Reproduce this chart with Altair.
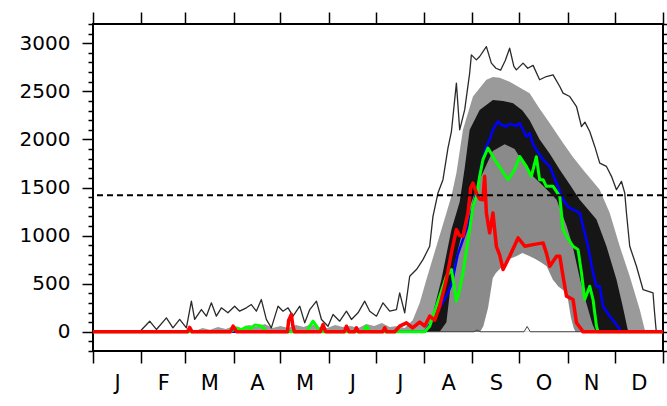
import altair as alt
import pandas as pd

# ---------------- data ----------------
MONTHS = ["J", "F", "M", "A", "M", "J", "J", "A", "S", "O", "N", "D"]
MONTH_EDGES = [0, 31, 59, 90, 120, 151, 181, 212, 243, 273, 304, 334, 365]
MONTH_MIDS = [15.5, 45, 74.5, 105, 135.5, 166, 196.5, 227.5, 258, 288.5, 319, 349.5]
Y_TICKS = list(range(-200, 3201, 100))
THRESHOLD = 1420

# thin black upper envelope
MAX_DAY = [0, 29.9, 36.3, 40.6, 47.0, 51.2, 55.5, 59.8, 63.0, 65.1, 69.4, 72.6, 75.8, 79.0,
           82.2, 86.4, 90.7, 93.9, 98.2, 101.4, 104.6, 107.8, 111.0, 114.2, 118.5, 121.7,
           124.9, 128.1, 132.4, 135.6, 138.8, 143.1, 146.3, 150.5, 153.7, 158.0, 162.3,
           165.5, 169.7, 174.0, 177.2, 181.5, 185.7, 190.0, 194.3, 196.4, 199.6, 202.8,
           207.1, 211.3, 215.6, 217.7, 220.9, 224.1, 227.3, 229.5, 232.7, 234.8, 238.0,
           241.2, 242.3, 245.5, 247.6, 251.9, 255.1, 258.0, 261.0, 264.0, 266.8, 269.5,
           271.1, 275.4, 278.4, 281.8, 286.0, 290.3, 294.6, 298.9, 301.0, 305.3, 309.6,
           312.8, 315.0, 318.1, 321.3, 324.5, 328.8, 332.0, 335.2, 338.4, 340.5, 341.6,
           343.7, 348.0, 352.2, 358.6, 359.6, 360.7, 365]
MAX_VAL = [0, 0, 110, 24, 145, 41, 128, 41, 318, 128, 231, 162, 301, 162,
           249, 197, 266, 214, 249, 283, 214, 335, 128, 41, 266, 214,
           249, 162, 266, 93, 231, 318, 128, 58, 180, 110, 214,
           128, 197, 318, 214, 162, 301, 214, 231, 405, 197, 577,
           647, 750, 889, 1200, 1442, 1581, 1910, 2080, 2585, 2100, 2307,
           2690, 2879, 2827, 2862, 2965, 2793, 2740, 2720, 2820, 2948, 2760,
           2723, 2793, 2740, 2770, 2620, 2654, 2671, 2550, 2481, 2446, 2342,
           2134, 2180, 2083, 1927, 1754, 1719, 1616, 1477, 1564, 1443, 1235,
           889, 681, 439, 405, 197, 0, 0]

# thin line near zero
MIN_DAY = [0, 244, 246, 248, 276, 278, 280, 365]
MIN_VAL = [0, 0, 20, 0, 0, 55, 0, 0]

# outer (light gray) band, upper edge
OUT_DAY = [0, 58, 62, 66, 70, 75, 80, 85, 90, 95, 100, 105, 110, 115, 120, 125, 130, 135,
           140, 145, 150, 155, 160, 165, 170, 175, 180, 185, 190, 195, 199.6, 204.7,
           209.2, 213.5, 219.9, 226.3, 229.5, 232.7, 236.9, 243.3, 251.9, 256.1, 260.4,
           266.8, 273.2, 279.6, 286.0, 292.5, 301.0, 307.2, 313.8, 324.5, 330.9, 337.3,
           343.7, 350.1, 353.3, 355, 365]
OUT_HI = [0, 0, 20, 10, 40, 20, 50, 30, 60, 40, 70, 50, 80, 40, 60, 40, 70, 50,
          80, 50, 40, 70, 50, 60, 40, 80, 60, 90, 50, 60, 40, 120,
          300, 543, 889, 1235, 1408, 1650, 2100, 2446, 2620, 2650, 2640,
          2600, 2540, 2480, 2320, 2169, 1962, 1820, 1685, 1477, 1235, 889,
          577, 231, 24, 0, 0]

# dark (black) band, upper edge
BLK_DAY = [213, 215.6, 223.1, 229.5, 234.8, 238.0, 241.2, 247.6, 256.1, 262.6, 269.0,
           275.0, 279.6, 286.0, 292.5, 298.9, 305.3, 311.7, 318.1, 322.4, 328.8, 335.2,
           339.2, 342.4, 344]
BLK_HI = [0, 58, 543, 1062, 1350, 1700, 2100, 2307, 2411, 2400, 2377,
          2300, 2200, 2000, 1850, 1685, 1530, 1373, 1250, 1166, 889, 543,
          266, 24, 0]

# inner (gray) band, upper edge
INN_DAY = [222, 226.3, 229.5, 232.9, 236.9, 241.2, 247.6, 256.0, 263.6, 270.0, 279.6,
           289.3, 296.9, 303.3, 307.2, 311.7, 315.9, 319.8, 322]
INN_HI = [0, 100, 543, 800, 1062, 1300, 1581, 1880, 1950, 1900, 1650,
          1500, 1373, 1100, 889, 560, 300, 80, 0]

# empty region under the bands in Sep-Oct (lower edge of all bands)
HOLE_DAY = [248, 250, 253, 256, 258, 261, 264, 267, 271, 275, 279, 283, 287, 290.5,
            294.4, 298, 302, 304, 306, 307.8, 309]
HOLE_LO = [0, 60, 250, 560, 612, 660, 720, 760, 785, 820, 790, 760, 720, 681,
           543, 470, 420, 350, 150, 40, 0]

BLUE_DAY = [0, 212.4, 217.7, 222.0, 226.3, 229.7, 233.5, 236.9, 239.9, 243.3, 246.3,
            248.9, 251.9, 254.0, 256.1, 257.9, 259.3, 261.7, 264.7, 266.8, 269.0, 271.1,
            273.2, 275.4, 277.5, 279.6, 281.8, 283.9, 288.2, 292.5, 296.8, 301.0, 304.2,
            307.4, 311.7, 313.8, 317.0, 320.2, 322.4, 324.5, 326.6, 330.9, 334.0, 337.3,
            338.6, 365]
BLUE_VAL = [0, 0, 128, 250, 370, 500, 800, 958, 1100, 1304, 1500,
            1750, 1927, 2000, 2100, 2150, 2186, 2150, 2134, 2160, 2152, 2140,
            2169, 2100, 2030, 2066, 1950, 1892, 1789, 1719, 1547, 1373, 1300,
            1270, 1235, 1096, 889, 612, 473, 473, 266, 162, 100, 24,
            0, 0]

GREEN_DAY = [0, 88, 91.8, 95, 98.2, 101, 103.5, 108.0, 111.0, 137, 138.8, 140.9, 143.9,
             146, 173, 175.1, 177.2, 212.4, 215.6, 219.9, 226.3, 229.5, 231.0, 232.7,
             234.8, 236.9, 241.2, 243.3, 245.5, 247.6, 249.7, 252.9, 255.1, 257.2, 261.5,
             265.8, 270.0, 273.2, 277.5, 280.7, 283.9, 286.0, 288.2, 290.3, 294.6, 298.9,
             301.0, 303.2, 307.4, 310.6, 312.8, 314.9, 318.1, 320.2, 322.4, 323.4, 365]
GREEN_VAL = [0, 0, 40, 20, 50, 30, 70, 60, 0, 0, 60, 110, 40,
             0, 0, 58, 0, 0, 58, 266, 577, 647, 500, 320,
             439, 612, 1062, 1304, 1408, 1616, 1789, 1910, 1850, 1789, 1685,
             1581, 1685, 1823, 1719, 1616, 1820, 1581, 1581, 1512, 1512, 1408,
             1062, 993, 889, 854, 612, 335, 473, 335, 58, 0, 0]

RED_DAY = [0, 60.5, 61.9, 63.5, 88, 89.7, 92, 124.5, 125.3, 127.0, 128, 129, 145.5,
           147.3, 149, 161, 162.3, 164, 167.5, 168.7, 170, 185.5, 186.8, 188, 193.2,
           196.4, 200.7, 204.7, 209.2, 212.4, 215.6, 218.8, 222.0, 226.3, 229.5, 232.7,
           234.8, 236.9, 240.1, 241.9, 243.3, 245.5, 247.6, 249.7, 250.8, 251.9, 254.0,
           256.1, 258.3, 260.4, 262.6, 266.8, 272.2, 276.5, 281.8, 288.2, 290.3, 292.5,
           296.8, 298.9, 301.0, 303.2, 307.4, 309.6, 312.8, 313.6, 365]
RED_VAL = [0, 0, 45, 0, 0, 58, 0, 0, 120, 180, 60, 0, 0,
           75, 0, 0, 58, 0, 0, 41, 0, 0, 41, 0, 0,
           58, 93, 40, 100, 60, 162, 120, 266, 543, 820, 1062,
           1000, 993, 1235, 1500, 1547, 1443, 1380, 1373, 1616, 1235, 1028,
           1235, 889, 800, 647, 785, 976, 889, 906, 924, 820, 681,
           785, 785, 577, 370, 335, 93, 24, 0, 0]

# ---------------- chart ----------------
FONT = "DejaVu Sans"
xs = alt.Scale(domain=[0, 365], nice=False, zero=False)
ys = alt.Scale(domain=[-200, 3200], nice=False, zero=False)

mid_js = "[" + ",".join(str(m) for m in MONTH_MIDS) + "]"
let_js = "[" + ",".join("'" + m + "'" for m in MONTHS) + "]"

ax_bottom = alt.Axis(
    orient="bottom", values=MONTH_EDGES + MONTH_MIDS, title=None, grid=False, domain=False,
    tickSize=12, tickWidth=1.5, tickColor="black",
    tickOpacity={"condition": {"test": f"indexof({mid_js}, datum.value) >= 0", "value": 0}, "value": 1},
    labelExpr=f"indexof({mid_js}, datum.value) >= 0 ? {let_js}[indexof({mid_js}, datum.value)] : ''",
    labelFont=FONT, labelFontSize=21, labelColor="black",
    labelPadding=9, labelOverlap=False, labelFlush=False, labelBound=False, labelBaseline="top")
ax_left = alt.Axis(
    orient="left", values=Y_TICKS, title=None, grid=False, domain=False,
    tickSize={"condition": {"test": "datum.value % 500 === 0", "value": 11}, "value": 5},
    tickWidth=1.5, tickColor="black",
    labelExpr="(datum.value % 500 === 0 && datum.value >= 0 && datum.value <= 3000) ? '' + datum.value : ''",
    labelFont=FONT, labelFontSize=20, labelColor="black",
    labelPadding=12, labelOverlap=False, labelFlush=False, labelBound=False)
ax_top = alt.Axis(orient="top", values=MONTH_EDGES, title=None, grid=False, domain=False,
                  tickSize=12, tickWidth=1.5, tickColor="black", labels=False)
ax_right = alt.Axis(
    orient="right", values=Y_TICKS, title=None, grid=False, domain=False,
    tickSize={"condition": {"test": "datum.value % 500 === 0", "value": 8}, "value": 4},
    tickWidth=1.5, tickColor="black", labels=False)

out_df = pd.DataFrame({"day": OUT_DAY, "hi": OUT_HI})
blk_df = pd.DataFrame({"day": BLK_DAY, "hi": BLK_HI})
inn_df = pd.DataFrame({"day": INN_DAY, "hi": INN_HI})
hole_df = pd.DataFrame({"day": HOLE_DAY, "lo": HOLE_LO})

outer = alt.Chart(out_df).mark_area(color="#9a9a9a", clip=True).encode(
    x=alt.X("day:Q", scale=xs, axis=ax_bottom),
    y=alt.Y("hi:Q", scale=ys, axis=ax_left),
    y2=alt.datum(0))
black = alt.Chart(blk_df).mark_area(color="#161616", clip=True).encode(
    x=alt.X("day:Q", scale=xs, axis=ax_top),
    y=alt.Y("hi:Q", scale=ys, axis=ax_right),
    y2=alt.datum(0))
inner = alt.Chart(inn_df).mark_area(color="#8a8a8a", clip=True).encode(
    x=alt.X("day:Q", scale=xs, axis=None),
    y=alt.Y("hi:Q", scale=ys, axis=None),
    y2=alt.datum(0))
hole = alt.Chart(hole_df).mark_area(color="white", clip=True).encode(
    x=alt.X("day:Q", scale=xs, axis=None),
    y=alt.Y("lo:Q", scale=ys, axis=None),
    y2=alt.datum(0))


def line(days, vals, color, width):
    df = pd.DataFrame({"day": days, "v": vals})
    return alt.Chart(df).mark_line(color=color, strokeWidth=width, clip=True,
                                   strokeJoin="round").encode(
        x=alt.X("day:Q", scale=xs, axis=None),
        y=alt.Y("v:Q", scale=ys, axis=None))


maxl = line(MAX_DAY, MAX_VAL, "#2a2a2a", 1.3)
minl = line(MIN_DAY, MIN_VAL, "#444444", 1.0)
blue = line(BLUE_DAY, BLUE_VAL, "#0000ff", 2.5)
green = line(GREEN_DAY, GREEN_VAL, "#00ff00", 3.0)
red = line(RED_DAY, RED_VAL, "#ff0000", 3.5)

thr = alt.Chart(pd.DataFrame({"t": [THRESHOLD]})).mark_rule(
    color="black", strokeWidth=2, strokeDash=[6, 4]).encode(
    y=alt.Y("t:Q", scale=ys, axis=None))

chart = alt.layer(outer, black, inner, hole, maxl, minl, blue, green, red, thr).resolve_axis(
    x="independent", y="independent"
).properties(
    width=570, height=327,
    autosize=alt.AutoSizeParams(type="none"),
    padding={"left": 93, "top": 24, "right": 4, "bottom": 55},
    background="white",
).configure_view(stroke="black", strokeWidth=2)

chart.save("out.html", embed_options={"renderer": "svg", "actions": False})
